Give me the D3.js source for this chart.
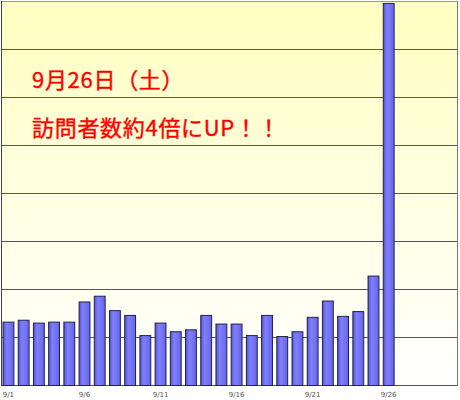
<!DOCTYPE html>
<html>
<head>
<meta charset="utf-8">
<script src="https://cdn.jsdelivr.net/npm/d3@7"></script>
<style>
  body { margin: 0; background: #fff; }
  #chart { width: 460px; height: 400px; }
</style>
</head>
<body>
<div id="chart"></div>
<script>
//Days of September shown on the x axis
var days = [];
for (var i = 1; i <= 30; i++) { days.push('9/' + i); }

//Visitors per day, 9/1 - 9/26
var visitors = [66, 68, 65, 66, 66, 87, 93, 78, 73, 52, 65, 56, 58, 73, 64,
                64, 52, 73, 51, 56, 71, 88, 72, 77, 114, 398];

//Tick labels under the bars
var tickLabels = ['9/1', '9/6', '9/11', '9/16', '9/21', '9/26'];

//Grid values
var gridValues = [0, 50, 100, 150, 200, 250, 300, 350, 400];

var noteLines = ['9月26日（土）', '訪問者数約4倍にUP！！'];

drawChart();

function drawChart() {

	var left = 1, right = 457, top = 1, bottom = 385;

	var xScale = d3.scaleBand()
		.domain(days)
		.range([left, right])
		.paddingInner(0.22)
		.paddingOuter(0.1);

	var yScale = d3.scaleLinear()
		.domain([0, 400])
		.range([bottom, top]);

	var svg = d3.select('#chart').append('svg')
		.attr('width', 460)
		.attr('height', 400);

	//Gradients for background and bars
	var defs = svg.append('defs');
	var bg = defs.append('linearGradient')
		.attr('id', 'bg').attr('x1', 0).attr('y1', 0).attr('x2', 0).attr('y2', 1);
	bg.append('stop').attr('offset', '0%').attr('stop-color', '#ffffc0');
	bg.append('stop').attr('offset', '100%').attr('stop-color', '#ffffff');

	var barGrad = defs.append('linearGradient')
		.attr('id', 'barGrad').attr('x1', 0).attr('y1', 0).attr('x2', 1).attr('y2', 0);
	barGrad.append('stop').attr('offset', '0%').attr('stop-color', '#5555d0');
	barGrad.append('stop').attr('offset', '35%').attr('stop-color', '#8080ff');
	barGrad.append('stop').attr('offset', '100%').attr('stop-color', '#6464e6');

	//Plot background
	svg.append('rect')
		.attr('x', left)
		.attr('y', top)
		.attr('width', right - left)
		.attr('height', bottom - top)
		.attr('fill', 'url(#bg)');

	//Grid lines
	svg.selectAll('line.grid')
		.data(gridValues)
		.enter()
		.append('line')
		.attr('class', 'grid')
		.attr('x1', left)
		.attr('x2', right)
		.attr('y1', function(d) { return Math.round(yScale(d)) + 0.5; })
		.attr('y2', function(d) { return Math.round(yScale(d)) + 0.5; })
		.attr('stroke', function(d) { return d == 400 ? '#999' : '#555'; })
		.attr('stroke-width', 1);

	//Borders
	svg.append('line')
		.attr('x1', left + 0.5).attr('x2', left + 0.5)
		.attr('y1', top).attr('y2', bottom + 1)
		.attr('stroke', '#444');
	svg.append('line')
		.attr('x1', right + 0.5).attr('x2', right + 0.5)
		.attr('y1', top).attr('y2', bottom + 1)
		.attr('stroke', '#777');

	//Bars
	svg.selectAll('rect.bar')
		.data(visitors)
		.enter()
		.append('rect')
		.attr('class', 'bar')
		.attr('x', function(d, i) { return xScale(days[i]) + 0.5; })
		.attr('width', xScale.bandwidth() - 1)
		.attr('y', function(d) { return yScale(d) + 0.5; })
		.attr('height', function(d) { return bottom - yScale(d); })
		.attr('fill', 'url(#barGrad)')
		.attr('stroke', '#22224a')
		.attr('stroke-width', 1);

	//X labels
	svg.selectAll('text.tick')
		.data(tickLabels)
		.enter()
		.append('text')
		.attr('class', 'tick')
		.attr('x', function(d) { return xScale(d) + xScale.bandwidth() / 2; })
		.attr('y', 397)
		.attr('text-anchor', 'middle')
		.attr('fill', '#555')
		.style('font-family', 'DejaVu Sans, sans-serif')
		.style('font-size', '7px')
		.text(function(d) { return d; });

	//Red note
	svg.selectAll('text.note')
		.data(noteLines)
		.enter()
		.append('text')
		.attr('class', 'note')
		.attr('x', 32)
		.attr('y', function(d, i) { return 87.5 + i * 48; })
		.attr('fill', '#ff0000')
		.attr('stroke', '#ff0000')
		.attr('stroke-width', 0.4)
		.style('font-family', '"Noto Sans CJK JP", sans-serif')
		.style('font-size', '22px')
		.style('letter-spacing', '0.7px')
		.text(function(d) { return d; });
}
</script>
</body>
</html>
